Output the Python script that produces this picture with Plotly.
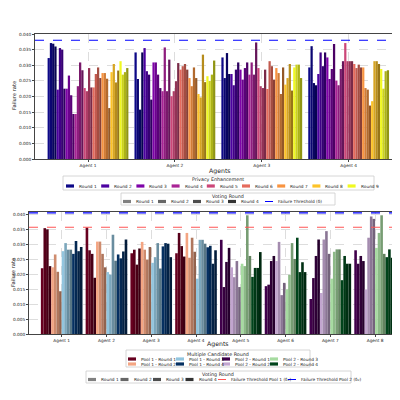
import plotly.graph_objects as go
from plotly.subplots import make_subplots

agents_top = ["Agent 1", "Agent 2", "Agent 3", "Agent 4"]
pe_rounds = [f"Round {i}" for i in range(1, 10)]
vote_rounds = ["Round 1", "Round 2", "Round 3", "Round 4"]
# top_vals[agent][pe_round] = 4 voting rounds
top_vals = [
    [[32.3,37.1,36.9,36.0],[22.2,35.5,35.0,22.5],[22.5,26.7,20.4,14.4],[14.4,23.3,30.9,28.4],[22.7,21.7,29.1,22.9],
     [22.9,27.2,29.3,25.9],[27.5,27.5,25.7,16.3],[27.8,30.4,24.5,28.3],[31.3,27.0,27.8,29.1]],
    [[34.1,25.6,15.8,34.1],[35.5,28.1,27.0,19.0],[30.9,30.9,27.0,22.7],[21.7,35.7,21.7,31.8],[20.1,21.7,24.9,30.7],
     [28.6,29.7,30.4,28.6],[25.9,23.3,29.3,25.9],[20.8,19.7,33.4,24.6],[26.5,25.0,27.0,31.5]],
    [[32.5,25.9,33.9,27.2],[27.2,23.6,28.6,30.9],[28.6,25.4,29.1,30.9],[27.0,30.9,27.0,37.3],[29.1,23.3,22.7,28.6],
     [22.4,31.3,29.7,25.4],[29.1,27.5,20.8,29.3],[23.8,25.9,30.4,21.9],[29.3,30.2,30.2,25.9]],
    [[29.3,36.1,24.3,23.6],[27.2,34.1,29.7,34.1],[32.5,25.6,28.8,36.8],[25.1,23.6,28.8,31.3],[37.1,31.3,31.3,31.3],
     [30.4,29.1,30.2,29.3],[29.3,22.7,22.2,17.1],[18.5,31.3,31.3,30.4],[28.8,22.5,28.1,28.4]],
]
top_threshold = 0.038

agents_bot = [f"Agent {i}" for i in range(1, 9)]
cand_labels = ["Pool 1 - Round 1","Pool 1 - Round 2","Pool 1 - Round 3","Pool 1 - Round 4",
               "Pool 2 - Round 1","Pool 2 - Round 2","Pool 2 - Round 3","Pool 2 - Round 4"]
# bot_vals[agent][candidate round] = 4 voting rounds (agents 1-4 pool 1, agents 5-8 pool 2)
bot_vals = [
    [[22.0,35.4,35.0,22.7],[22.3,26.6,20.8,14.3],[27.7,30.4,28.2,28.2],[26.8,31.1,27.7,29.1]],
    [[35.6,28.0,26.8,18.8],[30.9,30.9,26.8,22.3],[20.7,19.9,33.2,24.5],[26.6,25.3,27.6,31.6]],
    [[27.0,28.2,23.2,28.6],[30.8,28.2,24.9,29.1],[23.8,25.7,30.4,21.9],[29.3,30.4,30.2,25.7]],
    [[27.0,33.8,29.4,25.9],[33.8,25.5,32.2,27.5],[18.5,31.5,31.5,30.2],[29.0,29.5,23.5,28.0]],
    [[31.5,15.7,24.1,28.8],[22.3,19.0,24.4,15.7],[23.5,22.7,39.7,26.1],[19.1,22.1,22.1,27.4]],
    [[16.0,16.5,24.4,26.1],[24.4,30.8,13.0,17.1],[14.9,19.8,30.4,25.1],[32.2,20.7,24.0,20.7]],
    [[11.7,18.7,26.1,31.6],[13.7,31.6,34.4,26.8],[18.5,27.5,28.3,28.3],[18.0,26.1,23.5,23.5]],
    [[28.0,23.5,26.1,24.4],[14.9,32.2,39.3,38.5],[28.8,33.8,39.7,26.8],[25.7,28.3,25.5,25.5]],
]
thr_pool1 = 0.0357
thr_pool2 = 0.0405

pe_colors = ["#0d0887","#4c02a1","#7e03a8","#a92395","#cc4778","#e56b5d","#f89441","#fdc328","#f0f921"]
pool_colors = ["#67001f","#f4a582","#92c5de","#053061","#40004b","#c2a5cf","#a6dba0","#00441b"]
vote_factors = [1.0, 0.85, 0.72, 0.6]
vote_greys = ["#808080","#666666","#4d4d4d","#333333"]

def shade(hexc, f):
    r, g, b = int(hexc[1:3], 16), int(hexc[3:5], 16), int(hexc[5:7], 16)
    return f"rgb({int(r*f)},{int(g*f)},{int(b*f)})"

FONT = "DejaVu Sans"
fig = make_subplots(rows=2, cols=1)

for p in range(9):
    for v in range(4):
        fig.add_trace(go.Bar(x=agents_top, y=[top_vals[a][p][v] / 1000 for a in range(4)],
                             marker=dict(color=shade(pe_colors[p], vote_factors[v]), line=dict(width=0)),
                             showlegend=False), row=1, col=1)
for c in range(4):
    for v in range(4):
        cols = [shade(pool_colors[c + (4 if a >= 4 else 0)], vote_factors[v]) for a in range(8)]
        fig.add_trace(go.Bar(x=agents_bot, y=[bot_vals[a][c][v] / 1000 for a in range(8)],
                             marker=dict(color=cols, line=dict(width=0)), showlegend=False), row=2, col=1)

shapes = [
    dict(type="line", xref="x domain", yref="y", x0=0, x1=1, y0=top_threshold, y1=top_threshold,
         line=dict(color="blue", dash="dash", width=1.2)),
    dict(type="line", xref="x2 domain", yref="y2", x0=0, x1=1, y0=thr_pool1, y1=thr_pool1,
         line=dict(color="#ff5555", dash="dash", width=1.2)),
    dict(type="line", xref="x2 domain", yref="y2", x0=0, x1=1, y0=thr_pool2, y1=thr_pool2,
         line=dict(color="blue", dash="dash", width=1.2)),
]
annots = []

def P(x, y):
    return x / 400, 1 - y / 400

def box(x0, y0, x1, y1):
    a, b = P(x0, y0); c, d = P(x1, y1)
    shapes.append(dict(type="rect", xref="paper", yref="paper", x0=a, y0=d, x1=c, y1=b,
                       line=dict(color="#cccccc", width=0.8), fillcolor="white"))

def text(x, y, s, size=4.3, anchor="left", angle=0):
    a, b = P(x, y)
    annots.append(dict(x=a, y=b, xref="paper", yref="paper", text=s, showarrow=False, textangle=angle,
                       xanchor=anchor, yanchor="middle", font=dict(size=size, family=FONT, color="#222")))

def swatch(x, y, color, label):
    a, b = P(x, y - 1.6); c, d = P(x + 8, y + 1.6)
    shapes.append(dict(type="rect", xref="paper", yref="paper", x0=a, y0=d, x1=c, y1=b,
                       line=dict(width=0), fillcolor=color))
    text(x + 11, y, label)

def dashline(x, y, color, label):
    a, b = P(x, y); c, _ = P(x + 8, y)
    shapes.append(dict(type="line", xref="paper", yref="paper", x0=a, y0=b, x1=c, y1=b,
                       line=dict(color=color, dash="dash", width=1)))
    text(x + 11, y, label)

# Axis titles
text(212, 163, "Agents", 6.2, "center")
text(210, 336, "Agents", 6.2, "center")
text(6, 88, "Failure rate", 5.2, "center", -90)
text(5, 265, "Failure rate", 5.2, "center", -90)

# Top legends
box(55, 168, 366, 182)
text(210, 172, "Privacy Enhancement", 4.8, "center")
for i in range(9):
    swatch(58 + i * 35.2, 178, pe_colors[i], pe_rounds[i])
box(113, 185, 327, 197)
text(220, 189, "Voting Round", 4.8, "center")
for i in range(4):
    swatch(115 + i * 35, 193.5, vote_greys[i], vote_rounds[i])
dashline(257, 193.5, "blue", "Failure Threshold (δ)")

# Bottom legends
box(118, 342, 302, 359)
text(210, 346, "Multiple Candidate Round", 4.8, "center")
colx = [120, 168, 214, 262]
for i in range(8):
    col, row = i // 2, i % 2
    swatch(colx[col], 351 + row * 5, pool_colors[i], cand_labels[i])
box(78, 363, 343, 375)
text(210, 366.5, "Voting Round", 4.8, "center")
for i in range(4):
    swatch(80 + i * 32.5, 371.5, vote_greys[i], vote_rounds[i])
dashline(210, 371.5, "#ff5555", "Failure Threshold Pool 1 (δ₁)")
dashline(280, 371.5, "blue", "Failure Threshold Pool 2 (δ₂)")

axstyle = dict(showline=True, linecolor="#444", linewidth=0.8, mirror=True, automargin=False,
               tickfont=dict(size=4.3, family=FONT, color="#222"), ticks="outside", ticklen=2,
               tickcolor="#444", showgrid=True, gridcolor="#dddddd", griddash="dash", gridwidth=0.5)
fig.update_layout(
    width=400, height=400, margin=dict(l=0, r=0, t=0, b=0), showlegend=False,
    plot_bgcolor="white", paper_bgcolor="white", barmode="group",
    font=dict(family=FONT), shapes=shapes, annotations=annots,
    xaxis=dict(domain=[27/400, 398/400], range=[-0.61, 3.66], **axstyle),
    yaxis=dict(domain=[1-151/400, 1-26/400], range=[0, 0.04], dtick=0.005, tickformat=".3f", **axstyle),
    xaxis2=dict(domain=[21/400, 398/400], range=[-0.73, 7.69], **axstyle),
    yaxis2=dict(domain=[1-326/400, 1-204/400], range=[0, 0.0408], dtick=0.005, tickformat=".3f", **axstyle),
    bargap=0.07, bargroupgap=0,
)
fig.write_html("out.html")
